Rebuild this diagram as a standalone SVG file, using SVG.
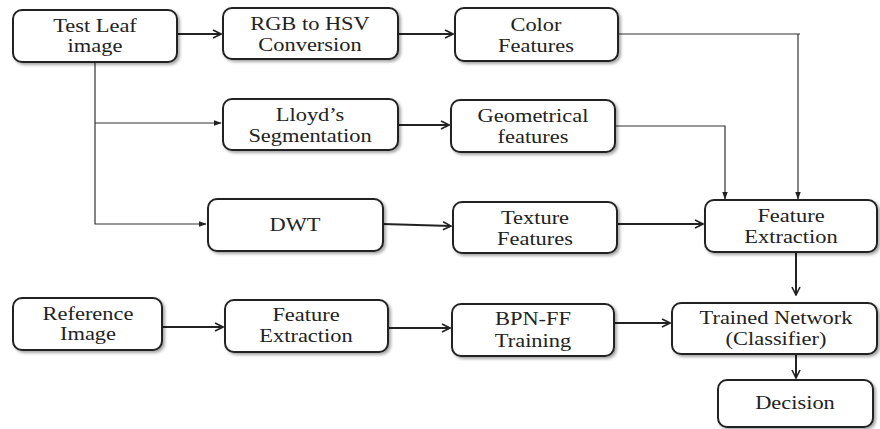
<svg xmlns="http://www.w3.org/2000/svg" width="880" height="429" viewBox="0 0 880 429">
<defs>
<filter id="sh" x="-10%" y="-10%" width="125%" height="135%"><feDropShadow dx="2" dy="2" stdDeviation="1.5" flood-color="#000" flood-opacity="0.35"/></filter>
<marker id="ah" viewBox="0 0 10 10" refX="9" refY="5" markerWidth="10" markerHeight="10" markerUnits="userSpaceOnUse" orient="auto"><path d="M1,1 L9,5 L1,9" fill="none" stroke="#222" stroke-width="1.6"/></marker>
<marker id="at" viewBox="0 0 10 10" refX="9" refY="5" markerWidth="8" markerHeight="8" markerUnits="userSpaceOnUse" orient="auto"><path d="M0,1.5 L10,5 L0,8.5 Z" fill="#222"/></marker>
</defs>
<style>
.b{fill:#fff;stroke:#222;stroke-width:2;filter:url(#sh)}
text{font-family:"Liberation Serif","Tinos","Times New Roman","DejaVu Serif",serif;font-size:19.5px;fill:#222;text-anchor:middle}
.c{fill:none;stroke:#222;stroke-width:2}
.c1{fill:none;stroke:#333;stroke-width:1.2}
</style>
<rect width="880" height="429" fill="#fff"/>
<g id="connectors">
<path class="c" d="M177,34 H221" marker-end="url(#ah)"/>
<path class="c" d="M398,34 H453" marker-end="url(#ah)"/>
<path class="c1" d="M95,62 V224 H206" marker-end="url(#at)"/>
<path class="c1" d="M95,123 H221" marker-end="url(#at)"/>
<path class="c" d="M398,125 H449" marker-end="url(#ah)"/>
<path class="c" d="M383,224 L451,226" marker-end="url(#ah)"/>
<path class="c1" d="M618,34 H800"/>
<path class="c1" d="M798,34 V199" marker-end="url(#at)"/>
<path class="c1" d="M615,126 H725 V199" marker-end="url(#at)"/>
<path class="c" d="M617,224 H703" marker-end="url(#ah)"/>
<path class="c" d="M796,252 V295" marker-end="url(#ah)"/>
<path class="c" d="M162,327 H223" marker-end="url(#ah)"/>
<path class="c" d="M388,328 H450" marker-end="url(#ah)"/>
<path class="c" d="M614,323 H670" marker-end="url(#ah)"/>
<path class="c" d="M796,354 V378" marker-end="url(#ah)"/>
</g>
<g id="test-leaf"><rect class="b" x="13" y="10" width="164" height="52" rx="9"/><text font-family="Liberation Serif, serif" transform="translate(95,32) scale(1.15,1)">Test Leaf</text><text font-family="Liberation Serif, serif" transform="translate(95,52) scale(1.15,1)">image</text></g>
<g id="rgb-hsv"><rect class="b" x="223" y="8" width="175" height="51" rx="9"/><text font-family="Liberation Serif, serif" transform="translate(310,30) scale(1.15,1)">RGB to HSV</text><text font-family="Liberation Serif, serif" transform="translate(310,51) scale(1.15,1)">Conversion</text></g>
<g id="color"><rect class="b" x="455" y="8" width="163" height="53" rx="9"/><text font-family="Liberation Serif, serif" transform="translate(536,31) scale(1.15,1)">Color</text><text font-family="Liberation Serif, serif" transform="translate(536,52) scale(1.15,1)">Features</text></g>
<g id="lloyd"><rect class="b" x="223" y="99" width="175" height="51" rx="9"/><text font-family="Liberation Serif, serif" transform="translate(310,121) scale(1.15,1)">Lloyd’s</text><text font-family="Liberation Serif, serif" transform="translate(310,142) scale(1.15,1)">Segmentation</text></g>
<g id="geometrical"><rect class="b" x="451" y="100" width="164" height="52" rx="9"/><text font-family="Liberation Serif, serif" transform="translate(533,122) scale(1.15,1)">Geometrical</text><text font-family="Liberation Serif, serif" transform="translate(533,143) scale(1.15,1)">features</text></g>
<g id="dwt"><rect class="b" x="208" y="199" width="175" height="52" rx="9"/><text font-family="Liberation Serif, serif" transform="translate(295,231) scale(1.15,1)">DWT</text></g>
<g id="texture"><rect class="b" x="453" y="202" width="164" height="51" rx="9"/><text font-family="Liberation Serif, serif" transform="translate(535,224) scale(1.15,1)">Texture</text><text font-family="Liberation Serif, serif" transform="translate(535,245) scale(1.15,1)">Features</text></g>
<g id="feature-extraction-r"><rect class="b" x="705" y="200" width="172" height="52" rx="9"/><text font-family="Liberation Serif, serif" transform="translate(791,222) scale(1.15,1)">Feature</text><text font-family="Liberation Serif, serif" transform="translate(791,243) scale(1.15,1)">Extraction</text></g>
<g id="reference"><rect class="b" x="13" y="298" width="149" height="52" rx="9"/><text font-family="Liberation Serif, serif" transform="translate(88,320) scale(1.15,1)">Reference</text><text font-family="Liberation Serif, serif" transform="translate(88,340) scale(1.15,1)">Image</text></g>
<g id="feature-extraction-l"><rect class="b" x="225" y="300" width="163" height="52" rx="9"/><text font-family="Liberation Serif, serif" transform="translate(306,321) scale(1.15,1)">Feature</text><text font-family="Liberation Serif, serif" transform="translate(306,342) scale(1.15,1)">Extraction</text></g>
<g id="bpn"><rect class="b" x="452" y="304" width="162" height="52" rx="9"/><text font-family="Liberation Serif, serif" transform="translate(533,325) scale(1.15,1)">BPN-FF</text><text font-family="Liberation Serif, serif" transform="translate(533,347) scale(1.15,1)">Training</text></g>
<g id="trained"><rect class="b" x="672" y="303" width="205" height="51" rx="9"/><text font-family="Liberation Serif, serif" transform="translate(776,324) scale(1.15,1)">Trained Network</text><text font-family="Liberation Serif, serif" transform="translate(776,345) scale(1.15,1)">(Classifier)</text></g>
<g id="decision"><rect class="b" x="718" y="380" width="155" height="47" rx="9"/><text font-family="Liberation Serif, serif" transform="translate(795,409) scale(1.15,1)">Decision</text></g>
</svg>
